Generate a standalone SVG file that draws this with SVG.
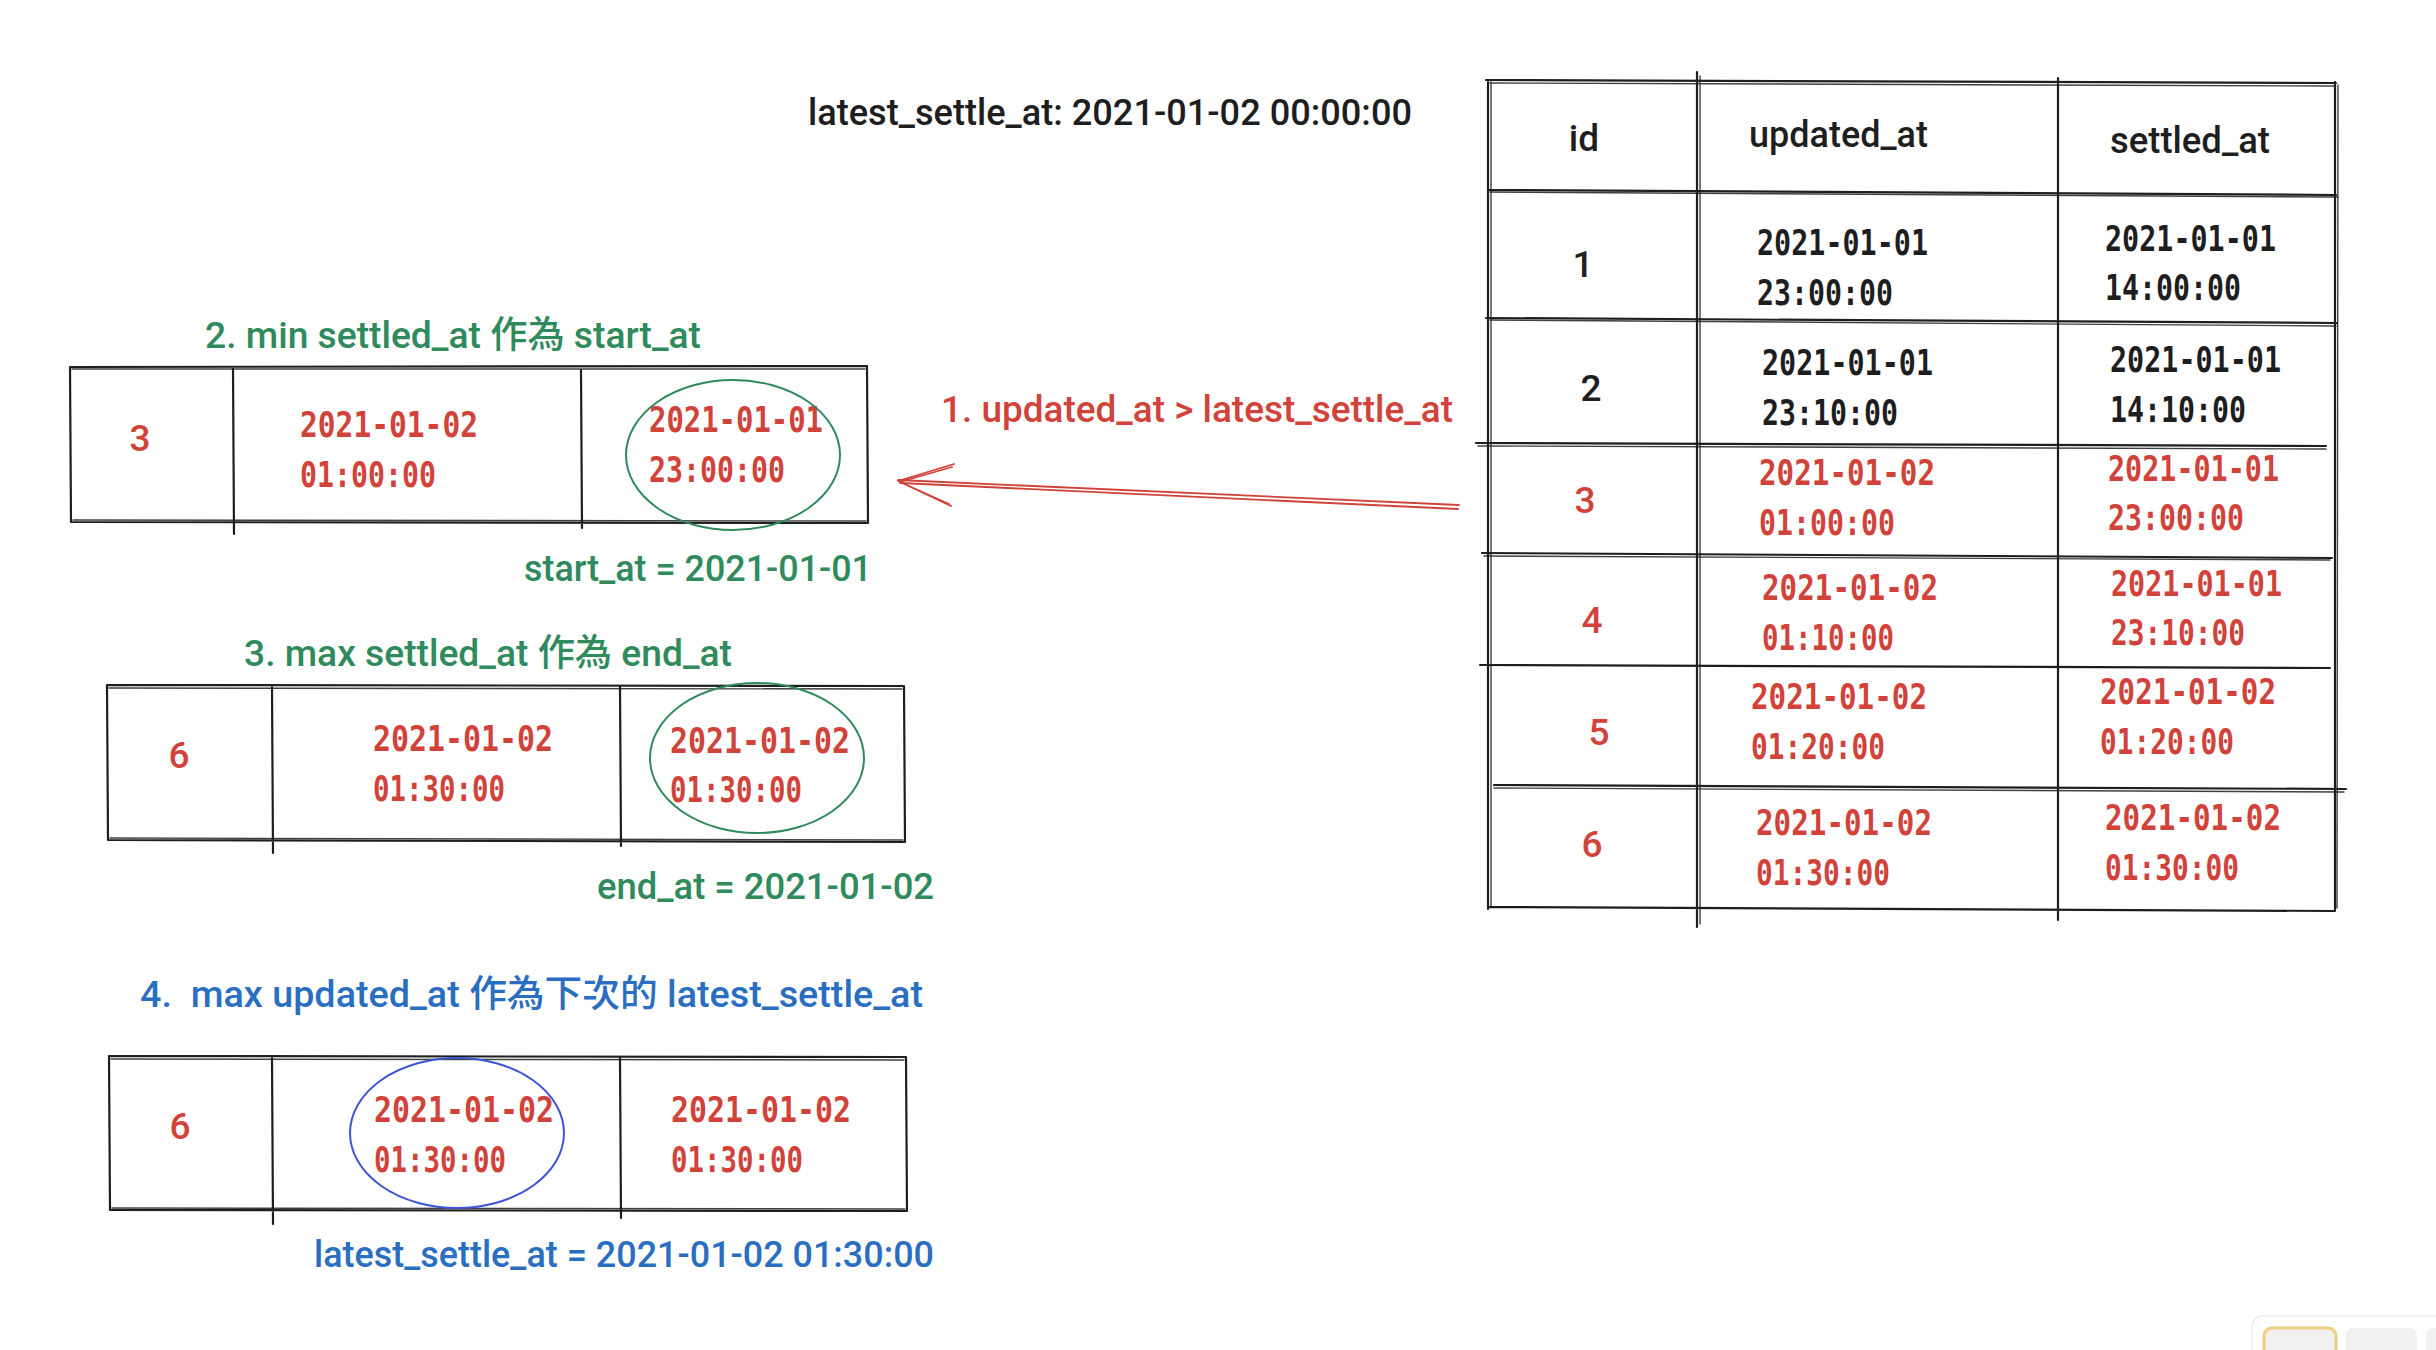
<svg xmlns="http://www.w3.org/2000/svg" width="2436" height="1350" viewBox="0 0 2436 1350">
<style>
.ln{stroke:#1e1e1e;stroke-width:2.2;fill:none;stroke-linecap:round}
.ln2{stroke:#1e1e1e;stroke-width:1.4;fill:none;stroke-linecap:round;opacity:0.85}
.t{font-family:Roboto,"Liberation Sans","Noto Sans CJK TC",sans-serif;font-size:37px;font-weight:500;white-space:pre}
.d{font-family:"DejaVu Sans Mono","Liberation Mono",monospace;font-size:35px;font-weight:bold}
.n{font-family:Roboto,"Liberation Sans",sans-serif;font-size:37px;font-weight:500;text-anchor:middle}
.red{fill:#d0423a}
.grn{fill:#2f8a5c}
.blu{fill:#2a6ec2}
.blk{fill:#1e1e1e}
</style>
<rect width="2436" height="1350" fill="#ffffff"/>

<g id="title">
<text class="t blk" x="808" y="125" textLength="604" lengthAdjust="spacingAndGlyphs">latest_settle_at: 2021-01-02 00:00:00</text>
</g>

<g id="main-table">
<path class="ln" d="M1486 80 L2336 83 M1488 80 L1488 909 M2335 82 L2335 910 M1488 907 L2335 911 M1697 72 L1697 927 M2058 78 L2058 920"/>
<path class="ln2" d="M1490 83 L2334 86 M1491 82 L1491 907 M2338 85 L2337 908 M1700 76 L1700 924"/>
<path class="ln" d="M1488 190 L2336 195 M1486 318 L2337 323 M1476 443 L2326 446 M1482 553 L2332 558 M1480 665 L2330 668 M1494 785 L2346 789"/>
<path class="ln2" d="M1490 192 L2338 197 M1490 320 L2336 326 M1478 446 L2326 449 M1484 556 L2330 560 M1494 788 L2344 792"/>
<text class="n blk" x="1584" y="151">id</text>
<text class="t blk" x="1749" y="147" textLength="179" lengthAdjust="spacingAndGlyphs">updated_at</text>
<text class="t blk" x="2110" y="153" textLength="160" lengthAdjust="spacingAndGlyphs">settled_at</text>

<text class="n blk" x="1583" y="277">1</text>
<text class="d blk" x="1757" y="255" textLength="171" lengthAdjust="spacingAndGlyphs">2021-01-01</text>
<text class="d blk" x="1757" y="305" textLength="136" lengthAdjust="spacingAndGlyphs">23:00:00</text>
<text class="d blk" x="2105" y="251" textLength="171" lengthAdjust="spacingAndGlyphs">2021-01-01</text>
<text class="d blk" x="2105" y="300" textLength="136" lengthAdjust="spacingAndGlyphs">14:00:00</text>

<text class="n blk" x="1591" y="401">2</text>
<text class="d blk" x="1762" y="375" textLength="171" lengthAdjust="spacingAndGlyphs">2021-01-01</text>
<text class="d blk" x="1762" y="425" textLength="136" lengthAdjust="spacingAndGlyphs">23:10:00</text>
<text class="d blk" x="2110" y="372" textLength="171" lengthAdjust="spacingAndGlyphs">2021-01-01</text>
<text class="d blk" x="2110" y="422" textLength="136" lengthAdjust="spacingAndGlyphs">14:10:00</text>

<text class="n red" x="1585" y="513">3</text>
<text class="d red" x="1759" y="485" textLength="176" lengthAdjust="spacingAndGlyphs">2021-01-02</text>
<text class="d red" x="1759" y="535" textLength="136" lengthAdjust="spacingAndGlyphs">01:00:00</text>
<text class="d red" x="2108" y="481" textLength="171" lengthAdjust="spacingAndGlyphs">2021-01-01</text>
<text class="d red" x="2108" y="530" textLength="136" lengthAdjust="spacingAndGlyphs">23:00:00</text>

<text class="n red" x="1592" y="633">4</text>
<text class="d red" x="1762" y="600" textLength="176" lengthAdjust="spacingAndGlyphs">2021-01-02</text>
<text class="d red" x="1762" y="650" textLength="132" lengthAdjust="spacingAndGlyphs">01:10:00</text>
<text class="d red" x="2111" y="596" textLength="171" lengthAdjust="spacingAndGlyphs">2021-01-01</text>
<text class="d red" x="2111" y="645" textLength="134" lengthAdjust="spacingAndGlyphs">23:10:00</text>

<text class="n red" x="1599" y="745">5</text>
<text class="d red" x="1751" y="709" textLength="176" lengthAdjust="spacingAndGlyphs">2021-01-02</text>
<text class="d red" x="1751" y="759" textLength="134" lengthAdjust="spacingAndGlyphs">01:20:00</text>
<text class="d red" x="2100" y="704" textLength="176" lengthAdjust="spacingAndGlyphs">2021-01-02</text>
<text class="d red" x="2100" y="754" textLength="134" lengthAdjust="spacingAndGlyphs">01:20:00</text>

<text class="n red" x="1592" y="857">6</text>
<text class="d red" x="1756" y="835" textLength="176" lengthAdjust="spacingAndGlyphs">2021-01-02</text>
<text class="d red" x="1756" y="885" textLength="134" lengthAdjust="spacingAndGlyphs">01:30:00</text>
<text class="d red" x="2105" y="830" textLength="176" lengthAdjust="spacingAndGlyphs">2021-01-02</text>
<text class="d red" x="2105" y="880" textLength="134" lengthAdjust="spacingAndGlyphs">01:30:00</text>
</g>

<g id="connectors">
<path d="M1459 505 L898 480 M1458 509 L900 483" stroke="#d0423a" stroke-width="1.8" fill="none" stroke-linecap="round"/>
<path d="M954 464 L898 481 L951 506 M952 467 L900 482 L949 504" stroke="#d0423a" stroke-width="1.8" fill="none" stroke-linecap="round" stroke-linejoin="round"/>
<text class="t red" x="941" y="422" textLength="512" lengthAdjust="spacingAndGlyphs">1. updated_at &gt; latest_settle_at</text>
</g>

<g id="step2">
<text class="t grn" x="205" y="348" textLength="496" lengthAdjust="spacingAndGlyphs">2. min settled_at 作為 start_at</text>
<path class="ln" d="M70 367 L867 366 M70 367 L71 522 M867 366 L868 522 M71 522 L868 523 M233 368 L234 534 M581 370 L582 528"/>
<path class="ln2" d="M72 369 L865 369 M73 520 L866 521"/>
<text class="n red" x="140" y="451">3</text>
<text class="d red" x="300" y="437" textLength="178" lengthAdjust="spacingAndGlyphs">2021-01-02</text>
<text class="d red" x="300" y="487" textLength="136" lengthAdjust="spacingAndGlyphs">01:00:00</text>
<text class="d red" x="649" y="432" textLength="174" lengthAdjust="spacingAndGlyphs">2021-01-01</text>
<text class="d red" x="649" y="482" textLength="136" lengthAdjust="spacingAndGlyphs">23:00:00</text>
<ellipse cx="733" cy="455" rx="107" ry="75" fill="none" stroke="#2f8a5c" stroke-width="2"/>
<text class="t grn" x="524" y="581" textLength="348" lengthAdjust="spacingAndGlyphs">start_at = 2021-01-01</text>
</g>

<g id="step3">
<text class="t grn" x="244" y="666" textLength="488" lengthAdjust="spacingAndGlyphs">3. max settled_at 作為 end_at</text>
<path class="ln" d="M107 685 L904 686 M107 685 L108 840 M904 686 L905 842 M108 840 L905 842 M272 687 L273 853 M620 686 L621 846"/>
<path class="ln2" d="M109 688 L902 689 M110 838 L903 840"/>
<text class="n red" x="179" y="768">6</text>
<text class="d red" x="373" y="751" textLength="180" lengthAdjust="spacingAndGlyphs">2021-01-02</text>
<text class="d red" x="373" y="801" textLength="132" lengthAdjust="spacingAndGlyphs">01:30:00</text>
<text class="d red" x="670" y="753" textLength="180" lengthAdjust="spacingAndGlyphs">2021-01-02</text>
<text class="d red" x="670" y="802" textLength="132" lengthAdjust="spacingAndGlyphs">01:30:00</text>
<ellipse cx="757" cy="758" rx="107" ry="75" fill="none" stroke="#2f8a5c" stroke-width="2"/>
<text class="t grn" x="597" y="899" textLength="337" lengthAdjust="spacingAndGlyphs">end_at = 2021-01-02</text>
</g>

<g id="step4">
<text class="t blu" x="140" y="1007" textLength="783" lengthAdjust="spacingAndGlyphs" xml:space="preserve">4.  max updated_at 作為下次的 latest_settle_at</text>
<path class="ln" d="M109 1056 L906 1057 M109 1056 L110 1210 M906 1057 L907 1211 M110 1210 L907 1211 M272 1058 L273 1224 M620 1058 L621 1218"/>
<path class="ln2" d="M111 1059 L904 1060 M112 1208 L905 1209"/>
<text class="n red" x="180" y="1139">6</text>
<text class="d red" x="374" y="1122" textLength="180" lengthAdjust="spacingAndGlyphs">2021-01-02</text>
<text class="d red" x="374" y="1172" textLength="132" lengthAdjust="spacingAndGlyphs">01:30:00</text>
<text class="d red" x="671" y="1122" textLength="180" lengthAdjust="spacingAndGlyphs">2021-01-02</text>
<text class="d red" x="671" y="1172" textLength="132" lengthAdjust="spacingAndGlyphs">01:30:00</text>
<ellipse cx="457" cy="1133" rx="107" ry="75" fill="none" stroke="#3b55d6" stroke-width="2"/>
<text class="t blu" x="314" y="1267" textLength="620" lengthAdjust="spacingAndGlyphs">latest_settle_at = 2021-01-02 01:30:00</text>
</g>

<g id="toolbar">
<rect x="2252" y="1316" width="200" height="60" rx="10" fill="#ffffff" stroke="#eeeeee" stroke-width="1.5"/>
<rect x="2264" y="1328" width="72" height="40" rx="8" fill="#f1f1f1" stroke="#f0cd7e" stroke-width="3"/>
<rect x="2345" y="1328" width="72" height="40" rx="8" fill="#f1f1f1"/>
<rect x="2426" y="1328" width="20" height="40" rx="8" fill="#f1f1f1"/>
</g>
</svg>
